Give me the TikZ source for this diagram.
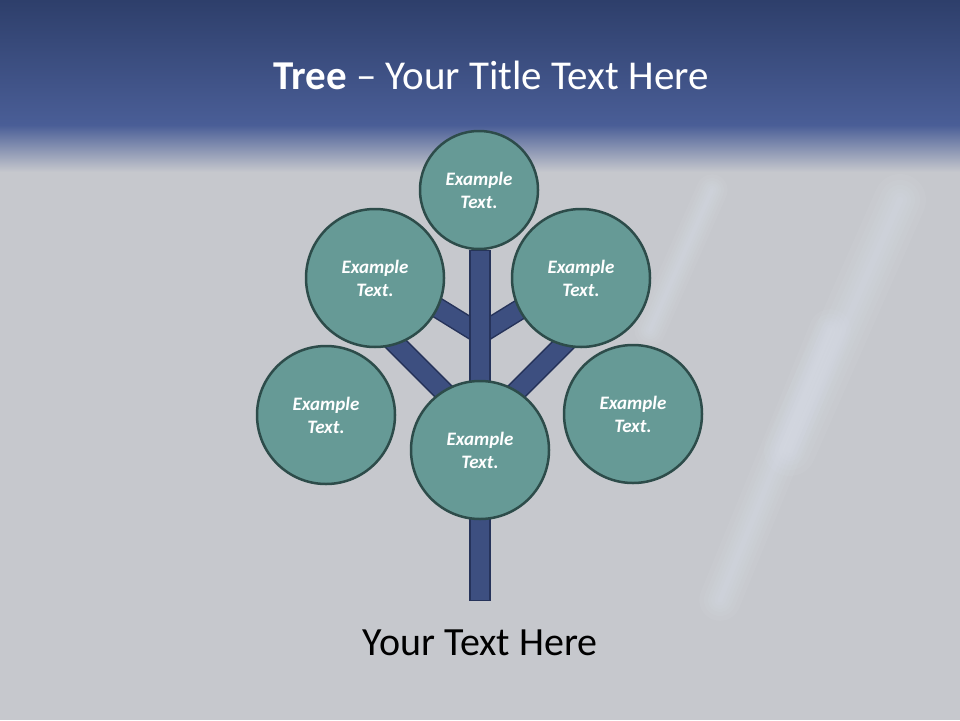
\documentclass[tikz,border=0pt]{standalone}
\usepackage{fontspec}
\setmainfont{Carlito}

\definecolor{bandtop}{HTML}{2E3F6B}
\definecolor{bandbottom}{HTML}{4A5E97}
\definecolor{slidegray}{HTML}{C6C8CD}
\definecolor{streak}{HTML}{E4EAF6}
\definecolor{leaffill}{HTML}{669A96}
\definecolor{leafborder}{HTML}{2D4C4A}
\definecolor{barfill}{HTML}{3D4F80}
\definecolor{barborder}{HTML}{26335A}

\tikzset{
  leaf/.style={circle, draw=leafborder, line width=2.5pt, fill=leaffill, minimum size=138pt, inner sep=0pt,
    align=center, text=white, font=\fontsize{19}{23}\selectfont\bfseries\itshape},
  branch/.style={draw=barborder, line width=1.5pt, double=barfill, double distance=18pt},
  glow/.style={streak, opacity=.07, line cap=round},
}

\begin{document}
\begin{tikzpicture}[x=1pt, y=-1pt]
        \useasboundingbox (0,0) rectangle (960,720);
        % background
        \fill[slidegray] (0,0) rectangle (960,720);
        \shade[top color=bandtop, bottom color=bandbottom] (0,0) rectangle (960,126);
        \shade[top color=bandbottom, bottom color=slidegray] (0,125) rectangle (960,172);
        \coordinate (s1a) at (900,200); \coordinate (s1b) at (790,450);
        \coordinate (s2a) at (830,330); \coordinate (s2b) at (720,600);
        \coordinate (s3a) at (712,190); \coordinate (s3b) at (650,330);
        \foreach \w in {6,14,22,30,40,52}{
          \draw[glow, line width=\w pt] (s1a) -- (s1b);
          \draw[glow, line width=.8*\w pt] (s2a) -- (s2b);
          \draw[glow, line width=.6*\w pt] (s3a) -- (s3b);
        }

        \node[text=white, font=\fontsize{41}{48}\selectfont] (title) at (491,75) {\textbf{Tree} -- Your Title Text Here};

        % branches
        \coordinate (bl1) at (480,334);
        \coordinate (bl2) at (420,297);
        \coordinate (br1) at (480,334);
        \coordinate (br2) at (540,297);
        \coordinate (bl3) at (470,418);
        \coordinate (bl4) at (380,328);
        \coordinate (br3) at (490,418);
        \coordinate (br4) at (580,328);
        \draw[branch] (bl1) -- (bl2);
        \draw[branch] (br1) -- (br2);
        \draw[branch] (bl3) -- (bl4);
        \draw[branch] (br3) -- (br4);

        % trunk
        \node[draw=barborder, line width=1.5pt, fill=barfill, minimum width=20pt, minimum height=350pt, inner sep=0pt]
          (trunk) at (480,425.5) {};

        % leaves
        \node[leaf, minimum size=118pt] (top) at (479,190) {Example\\Text.};
        \foreach \Name/\Point in {upleft/{(375,278)}, upright/{(581,278)}, lowleft/{(326,415)}, lowright/{(633,414)}, root/{(480,450)}}{
          \node[leaf] (\Name) at \Point {Example\\Text.};
        }

        \node[font=\fontsize{40}{48}\selectfont] (caption) at (480,643) {Your Text Here};
      \end{tikzpicture}
\end{document}
